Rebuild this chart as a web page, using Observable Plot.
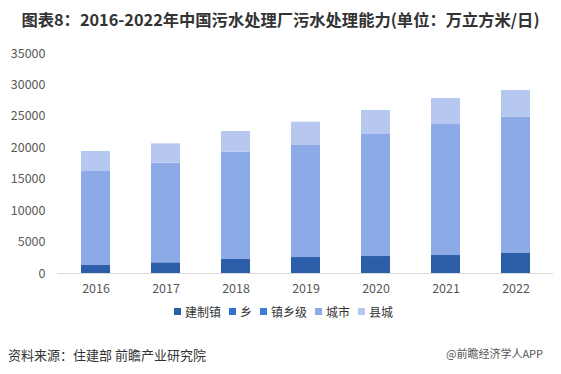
<!DOCTYPE html>
<html>
<head>
<meta charset="utf-8">
<script src="https://cdn.jsdelivr.net/npm/d3@7"></script>
<script src="https://cdn.jsdelivr.net/npm/@observablehq/plot@0.6"></script>
<style>
  html, body { margin: 0; padding: 0; background: #fff; }
  body { width: 561px; height: 374px; position: relative; overflow: hidden; font-family: "Noto Sans CJK SC", "Noto Sans", sans-serif; }
  #title { position: absolute; top: 7px; left: 0; width: 561px; text-align: center; font-size: 16.3px; font-weight: bold; color: #333; }
  #chart { position: absolute; top: 40px; left: 0; }
  #legend { position: absolute; top: 303px; left: 0; width: 561px; display: flex; justify-content: center; font-size: 12px; color: #333; padding-left: 6px; box-sizing: border-box; }
  #legend .item { display: flex; align-items: center; margin: 0 4px; }
  #legend .sw { width: 7px; height: 7px; margin-right: 4px; }
  #source { position: absolute; top: 345px; left: 8px; font-size: 13px; color: #333; }
  #wm { position: absolute; top: 345px; left: 446px; font-size: 11px; color: #555; }
</style>
</head>
<body>
<div id="title">图表8：2016-2022年中国污水处理厂污水处理能力(单位：万立方米/日)</div>
<div id="chart"></div>
<div id="legend"></div>
<div id="source">资料来源：住建部 前瞻产业研究院</div>
<div id="wm">@前瞻经济学人APP</div>
<script>
const years = ["2016", "2017", "2018", "2019", "2020", "2021", "2022"];
const seriesNames = ["建制镇", "乡", "镇乡级", "城市", "县城"];
const seriesColors = ["#2d5ea9", "#3570d0", "#3c7ddc", "#8caae6", "#b7c8f0"];
const jianzhizhen = [1270, 1700, 2230, 2540, 2700, 2860, 3180];
const xiang = [0, 0, 0, 0, 0, 0, 0];
const zhenxiangji = [0, 0, 0, 0, 0, 0, 0];
const chengshi = [14960, 15850, 17070, 17820, 19410, 20840, 21690];
const xiancheng = [3180, 3080, 3290, 3710, 3820, 4140, 4240];
const yTicks = [0, 5000, 10000, 15000, 20000, 25000, 30000, 35000];

const seriesValues = [jianzhizhen, xiang, zhenxiangji, chengshi, xiancheng];
const rows = [];
seriesNames.forEach((s, si) => {
  years.forEach((y, yi) => rows.push({year: y, series: s, value: seriesValues[si][yi]}));
});

const chart = Plot.plot({
  width: 561,
  height: 262,
  marginLeft: 57,
  marginRight: 8,
  marginTop: 13,
  marginBottom: 29,
  style: {fontFamily: "'Noto Sans CJK SC', sans-serif", fontSize: "12.5px", color: "#595959", background: "#fff"},
  x: {domain: years, padding: 0.59, paddingOuter: 0.295, label: null, tickSize: 0, tickPadding: 11},
  y: {domain: [0, 35000], ticks: yTicks, label: null, tickSize: 0, tickPadding: 12, tickFormat: d => String(d)},
  color: {domain: seriesNames, range: seriesColors},
  marks: [
    Plot.barY(rows, Plot.stackY({x: "year", y: "value", fill: "series", order: seriesNames})),
    Plot.ruleY([0], {stroke: "#d9d9d9", strokeWidth: 1})
  ]
});
document.getElementById("chart").appendChild(chart);

const legend = document.getElementById("legend");
seriesNames.forEach((s, i) => {
  const it = document.createElement("div");
  it.className = "item";
  const sw = document.createElement("div");
  sw.className = "sw";
  sw.style.background = seriesColors[i];
  const tx = document.createElement("span");
  tx.textContent = s;
  it.appendChild(sw);
  it.appendChild(tx);
  legend.appendChild(it);
});
</script>
</body>
</html>
